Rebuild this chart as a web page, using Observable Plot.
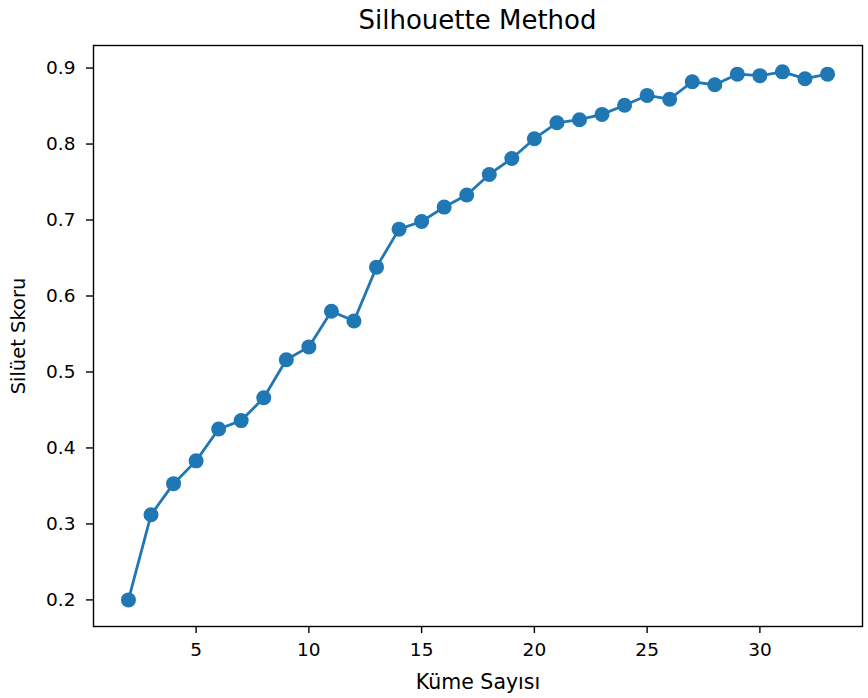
<!DOCTYPE html>
<html>
<head>
<meta charset="utf-8">
<script src="https://cdn.jsdelivr.net/npm/d3@7"></script>
<script src="https://cdn.jsdelivr.net/npm/@observablehq/plot@0.6"></script>
<style>
  html, body { margin: 0; padding: 0; background: #fff; }
  body { width: 868px; height: 698px; overflow: hidden; font-family: "DejaVu Sans", sans-serif; }
  #title { height: 40px; line-height: 40px; padding-left: 93px; padding-right: 6px; text-align: center; font-size: 26px; color: #000; box-sizing: border-box; width: 868px; }
</style>
</head>
<body>
<div id="title">Silhouette Method</div>
<div id="chart"></div>
<script>
const clusters = [2,3,4,5,6,7,8,9,10,11,12,13,14,15,16,17,18,19,20,21,22,23,24,25,26,27,28,29,30,31,32,33];
const scores = [0.200,0.312,0.353,0.383,0.425,0.436,0.466,0.516,0.533,0.580,0.567,0.638,0.688,0.698,0.717,0.733,0.760,0.781,0.807,0.828,0.832,0.839,0.851,0.864,0.859,0.882,0.878,0.892,0.890,0.895,0.886,0.892];
const xTicks = [5,10,15,20,25,30];
const yTicks = [0.2,0.3,0.4,0.5,0.6,0.7,0.8,0.9];
const xLabel = "Küme Sayısı";
const yLabel = "Silüet Skoru";

const data = clusters.map((k, i) => ({k, s: scores[i]}));

const plot = Plot.plot({
  width: 868,
  height: 658,
  marginLeft: 93,
  marginRight: 6,
  marginTop: 5,
  marginBottom: 72,
  style: {fontFamily: "DejaVu Sans, sans-serif", fontSize: "18.5px", color: "#000", background: "#fff"},
  x: {domain: [0.45, 34.55]},
  y: {domain: [0.165, 0.9297]},
  marks: [
    Plot.frame({stroke: "#000", strokeWidth: 1.4}),
    Plot.axisX({ticks: xTicks, tickSize: 7, tickPadding: 9, strokeWidth: 1.4, tickFormat: d3.format("d"), label: null, fontSize: 18.5}),
    Plot.axisX({ticks: [], label: xLabel, labelAnchor: "center", labelArrow: "none", labelOffset: 62, fontSize: 20.5}),
    Plot.axisY({ticks: yTicks, tickSize: 7, tickPadding: 11, strokeWidth: 1.4, tickFormat: d3.format(".1f"), label: null, fontSize: 18.5}),
    Plot.axisY({ticks: [], label: yLabel, labelAnchor: "center", labelArrow: "none", labelOffset: 82, fontSize: 19.5}),
    Plot.line(data, {x: "k", y: "s", stroke: "#1f77b4", strokeWidth: 2.8}),
    Plot.dot(data, {x: "k", y: "s", fill: "#1f77b4", r: 7.5})
  ]
});
document.getElementById("chart").appendChild(plot);
</script>
</body>
</html>
